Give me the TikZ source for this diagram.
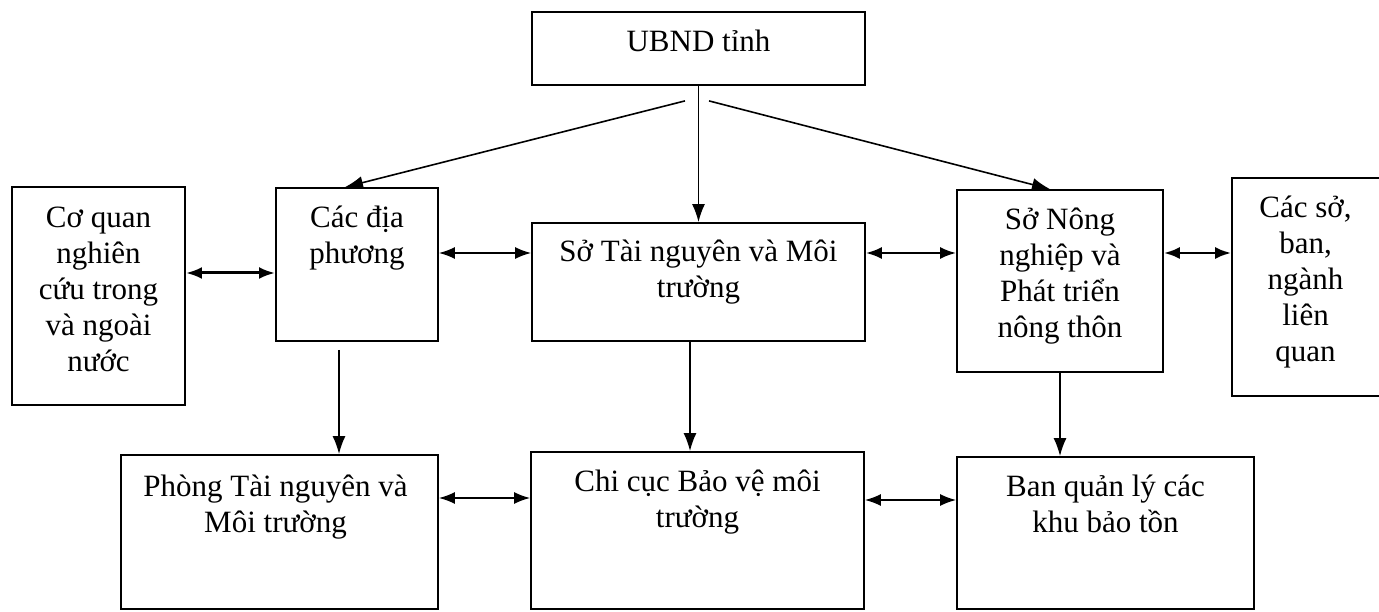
\documentclass[tikz,border=0pt]{standalone}
\usepackage{fontspec}
\setmainfont{Liberation Serif}
\usetikzlibrary{arrows.meta,calc}
\newcommand{\topstrut}{\rule{0pt}{28pt}}
\begin{document}
\begin{tikzpicture}[x=1pt,y=-1pt,
  box/.style={draw=black,line width=1.8pt,inner sep=0pt,fill=none},
  txt/.style={anchor=north,align=center,inner sep=0pt,font=\fontsize{31}{36}\selectfont},
  arr/.style={line width=1.6pt,-{Latex[length=18pt,width=13pt]}},
  dbl/.style={line width=1.6pt,{Latex[length=16pt,width=12pt]}-{Latex[length=16pt,width=12pt]}}
]
\useasboundingbox (0,0) rectangle (1379,612);
\clip (0,0) rectangle (1379,612);
% boxes
\node[box,minimum width=333pt,minimum height=73pt] (ubnd) at (698.5,48.5) {};
\node[box,minimum width=173pt,minimum height=218pt] (cq) at (98.5,296) {};
\node[box,minimum width=162pt,minimum height=153pt] (dp) at (357,264.5) {};
\node[box,minimum width=333pt,minimum height=118pt] (tn) at (698.5,282) {};
\node[box,minimum width=206pt,minimum height=182pt] (nn) at (1060,281) {};
\node[box,minimum width=151pt,minimum height=218pt] (cs) at (1307.5,287) {};
\node[box,minimum width=317pt,minimum height=154pt] (ph) at (279.5,532) {};
\node[box,minimum width=333pt,minimum height=157pt] (cc) at (697.5,530.5) {};
\node[box,minimum width=297pt,minimum height=152pt] (bq) at (1105.5,533) {};
% texts
\node[txt] (ubnd-t) at ([yshift=-12pt]ubnd.north) {\topstrut UBND tỉnh};
\node[txt] (cq-t) at ([yshift=-13pt]cq.north) {\topstrut Cơ quan\\nghiên\\cứu trong\\và ngoài\\nước};
\node[txt] (dp-t) at ([yshift=-12pt]dp.north) {\topstrut Các địa\\phương};
\node[txt] (tn-t) at ([yshift=-11pt]tn.north) {\topstrut Sở Tài nguyên và Môi\\trường};
\node[txt] (nn-t) at ([yshift=-12pt]nn.north) {\topstrut Sở Nông\\nghiệp và\\Phát triển\\nông thôn};
\node[txt] (cs-t) at ([xshift=-2pt,yshift=-12pt]cs.north) {\topstrut Các sở,\\ban,\\ngành\\liên\\quan};
\node[txt] (ph-t) at ([xshift=-4pt,yshift=-14pt]ph.north) {\topstrut Phòng Tài nguyên và\\Môi trường};
\node[txt] (cc-t) at ([yshift=-12pt]cc.north) {\topstrut Chi cục Bảo vệ môi\\trường};
\node[txt] (bq-t) at ([yshift=-12pt]bq.north) {\topstrut Ban quản lý các\\khu bảo tồn};
% connectors from UBND
\coordinate (s1) at ($(ubnd.south)+(-13.5,15)$);
\coordinate (s2) at ($(ubnd.south)+(10.5,15)$);
\draw[arr] (s1) -- ([xshift=-12pt]dp.north);
\draw[arr] (ubnd.south) -- (tn.north);
\draw[arr] (s2) -- ([xshift=-10pt]nn.north);
% vertical down arrows
\coordinate (d1) at ($(dp.south)+(-18,8)$);
\draw[arr] (d1) -- (d1 |- ph.north);
\draw[arr] ([xshift=-8.5pt]tn.south) -- ([xshift=-8.5pt]tn.south |- cc.north);
\draw[arr] (nn.south) -- (nn.south |- bq.north);
% horizontal double arrows
\draw[dbl,line width=3pt] ([yshift=23pt]cq.east) -- ([yshift=23pt]cq.east -| dp.west);
\draw[dbl] ([yshift=11.5pt]dp.east) -- ([yshift=11.5pt]dp.east -| tn.west);
\draw[dbl,line width=2.2pt] ([yshift=29pt]tn.east) -- ([yshift=29pt]tn.east -| nn.west);
\draw[dbl,line width=2.6pt] ([yshift=28pt]nn.east) -- ([yshift=28pt]nn.east -| cs.west);
\draw[dbl] ([yshift=34pt]ph.east) -- ([yshift=34pt]ph.east -| cc.west);
\draw[dbl] ([yshift=30.5pt]cc.east) -- ([yshift=30.5pt]cc.east -| bq.west);
\end{tikzpicture}
\end{document}
